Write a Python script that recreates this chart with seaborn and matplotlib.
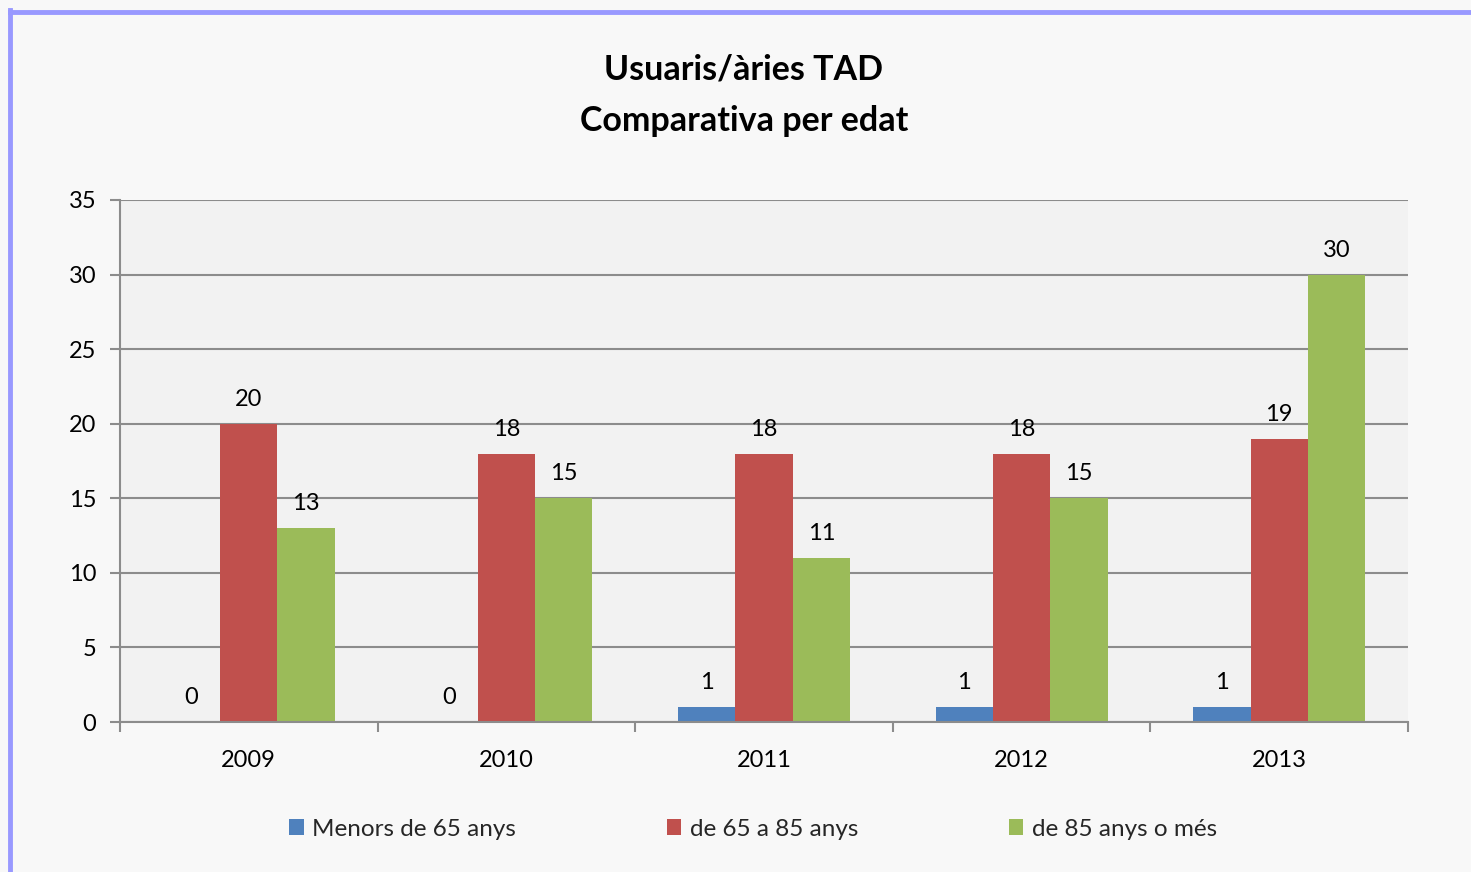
import matplotlib
matplotlib.use("Agg")
import matplotlib.pyplot as plt
import seaborn as sns
import pandas as pd
from matplotlib.patches import Patch
from matplotlib.lines import Line2D
from matplotlib.ticker import FixedLocator

years = ["2009", "2010", "2011", "2012", "2013"]
series_names = ["Menors de 65 anys", "de 65 a 85 anys", "de 85 anys o més"]
menors_65 = [0, 0, 1, 1, 1]
de_65_a_85 = [20, 18, 18, 18, 19]
de_85_mes = [13, 15, 11, 15, 30]
colors = ["#4F81BD", "#C0504D", "#9BBB59"]
title_lines = ["Usuaris/àries TAD", "Comparativa per edat"]

rows = []
for name, vals in zip(series_names, [menors_65, de_65_a_85, de_85_mes]):
    for y, v in zip(years, vals):
        rows.append({"Any": y, "Grup": name, "Valor": v})
df = pd.DataFrame(rows)

sns.set_theme(style="white")
plt.rcParams["font.family"] = ["Lato", "DejaVu Sans"]

W, H = 1471, 872
fig = plt.figure(figsize=(W / 100, H / 100), dpi=100, facecolor="#F8F8F8")
ax = fig.add_axes([120 / W, 1 - 722 / H, (1408 - 120) / W, (722 - 200) / H])
ax.set_facecolor("#F2F2F2")

sns.barplot(data=df, x="Any", y="Valor", hue="Grup", order=years,
            hue_order=series_names, palette=colors, width=0.667, gap=0,
            saturation=1, legend=False, ax=ax, edgecolor="none", linewidth=0)

for cont in ax.containers:
    ax.bar_label(cont, fmt="%d", padding=10, fontsize=17, color="black")

ax.set_ylim(0, 35)
ax.set_xlim(-0.5, 4.5)
ax.set_yticks(range(0, 36, 5))
ax.yaxis.grid(True, color="#8C8C8C", linewidth=1.5)
ax.set_axisbelow(True)
ax.set_xlabel("")
ax.set_ylabel("")
for s in ["top", "right"]:
    ax.spines[s].set_visible(False)
for s in ["left", "bottom"]:
    ax.spines[s].set_color("#8C8C8C")
    ax.spines[s].set_linewidth(1.5)
ax.tick_params(axis="y", which="major", length=7, width=1.5, color="#8C8C8C",
               labelsize=17, pad=10, left=True, labelcolor="black")
ax.tick_params(axis="x", which="major", length=0, labelsize=17, pad=20,
               labelcolor="black")
ax.xaxis.set_minor_locator(FixedLocator([-0.5, 0.5, 1.5, 2.5, 3.5, 4.5]))
ax.tick_params(axis="x", which="minor", length=7, width=1.5, color="#8C8C8C",
               bottom=True)

fig.text(744 / W, 1 - 95 / H, "\n".join(title_lines), ha="center", va="center",
         fontsize=24.5, fontweight="bold", linespacing=1.75, color="black")

handles = [Patch(facecolor=c, edgecolor="none") for c in colors]
fig.legend(handles, series_names, loc="center", bbox_to_anchor=(753 / W, 1 - 829 / H),
           ncol=3, frameon=False, fontsize=17.5, handlelength=0.6, handleheight=0.6,
           handletextpad=0.35, columnspacing=6.2)

border_color = "#9999FF"
fig.add_artist(Line2D([10 / W, 10 / W], [0, 1 - 10 / H], color=border_color,
                      linewidth=3.5, transform=fig.transFigure, solid_capstyle="projecting"))
fig.add_artist(Line2D([10 / W, 1], [1 - 12 / H, 1 - 12 / H], color=border_color,
                      linewidth=3.5, transform=fig.transFigure, solid_capstyle="projecting"))

fig.savefig("out.png", dpi=100, facecolor=fig.get_facecolor())
